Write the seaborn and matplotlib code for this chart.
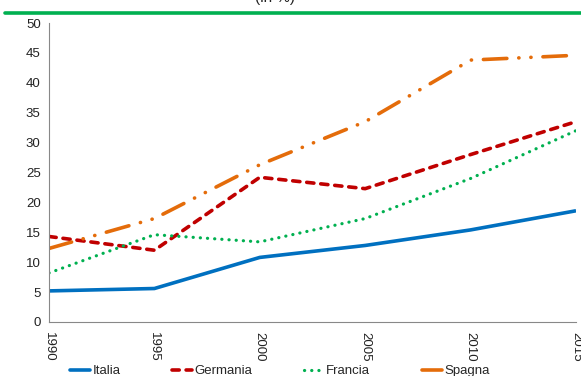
import matplotlib
matplotlib.use("Agg")
import matplotlib.pyplot as plt
import seaborn as sns
import pandas as pd
from matplotlib.lines import Line2D

years = [1990, 1995, 2000, 2005, 2010, 2015]
italia = [5.2, 5.6, 10.8, 12.8, 15.4, 18.6]
germania = [14.3, 12.0, 24.2, 22.3, 28.0, 33.5]
francia = [8.2, 14.6, 13.4, 17.3, 24.0, 32.0]
spagna = [12.3, 17.3, 26.3, 33.5, 43.8, 44.6]
series_names = ["Italia", "Germania", "Francia", "Spagna"]
y_ticks = list(range(0, 51, 5))

sns.set_style("white")
plt.rcParams["font.family"] = ["Liberation Sans", "DejaVu Sans"]

df = pd.DataFrame({
    "anno": years * 4,
    "valore": italia + germania + francia + spagna,
    "paese": sum([[n] * len(years) for n in series_names], []),
})

colors = {"Italia": "#0070C0", "Germania": "#C00000",
          "Francia": "#00B050", "Spagna": "#E46C0A"}
widths = {"Italia": 2.6, "Germania": 2.6, "Francia": 2.3, "Spagna": 2.6}
dashes = {"Italia": None, "Germania": (2.0, 1.9), "Francia": (0.05, 2.2),
          "Spagna": (6.5, 3.3, 0.05, 3.3, 0.05, 3.3)}

fig = plt.figure(figsize=(5.81, 3.76), dpi=100)
ax = fig.add_axes([49 / 581, 1 - 322 / 376, (576 - 49) / 581, (322 - 23) / 376])

for name in series_names:
    sub = df[df["paese"] == name]
    sns.lineplot(data=sub, x="anno", y="valore", ax=ax, color=colors[name],
                 linewidth=widths[name], legend=False)
    line = ax.lines[-1]
    if dashes[name] is not None:
        line.set_dashes(dashes[name])
    line.set_solid_capstyle("butt")
    line.set_dash_capstyle("round")

ax.set_xlim(1990, 2015)
ax.set_ylim(0, 50)
ax.set_yticks(y_ticks)
ax.set_xticks(years)
ax.set_xticklabels([str(y) for y in years], rotation=270, fontsize=9.5)
ax.set_yticklabels([str(v) for v in y_ticks], fontsize=9.5)
ax.set_xlabel("")
ax.set_ylabel("")
for s in ("top", "right"):
    ax.spines[s].set_visible(False)
for s in ("left", "bottom"):
    ax.spines[s].set_color("#888888")
    ax.spines[s].set_linewidth(0.8)
ax.tick_params(axis="both", which="major", direction="out", length=4,
               width=0.8, color="#888888", labelcolor="#222222", pad=2)
ax.tick_params(axis="x", pad=3)

# green rule under the title
fig.add_artist(Line2D([5 / 581, 1], [1 - 13 / 376, 1 - 13 / 376],
                      color="#00B050", linewidth=2.6, transform=fig.transFigure))
fig.text(275 / 581, 1 + 2 / 376, "(in %)", ha="center", va="center",
         fontsize=11, color="#222222")

handles = []
for name in series_names:
    h = Line2D([], [], color=colors[name], linewidth=widths[name])
    if name in ("Germania", "Francia"):
        h.set_dashes(dashes[name])
        h.set_dash_capstyle("round")
    handles.append(h)
fig.legend(handles, series_names, loc="center left", ncol=4,
           bbox_to_anchor=(70 / 581, 1 - 371 / 376), frameon=False, fontsize=9.5,
           handlelength=1.55, handletextpad=0.15, columnspacing=3.9,
           borderpad=0, borderaxespad=0)

fig.savefig("out.png", dpi=100)
